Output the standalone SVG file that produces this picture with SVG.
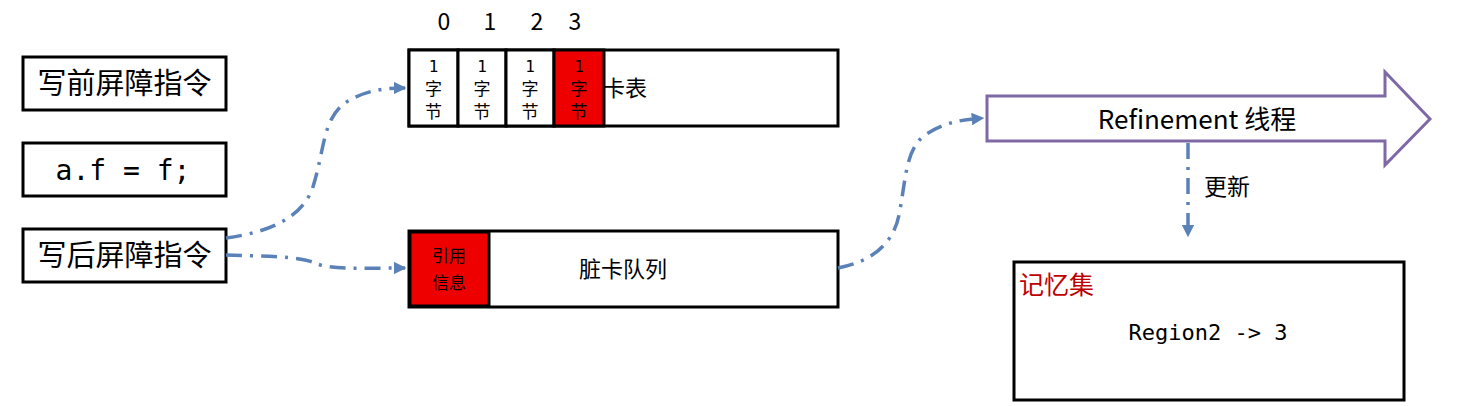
<svg xmlns="http://www.w3.org/2000/svg" width="1472" height="406" viewBox="0 0 1472 406">
<style>
.box{fill:#fff;stroke:#000;stroke-width:3}
.cjk{font-family:"Noto Sans CJK SC","Noto Sans",sans-serif;fill:#000}
.mono{font-family:"DejaVu Sans Mono","Liberation Mono",monospace;fill:#000}
.conn{fill:none;stroke:#5a81b8;stroke-width:3.5;stroke-dasharray:16 8 3 8}
</style>
<defs>
<marker id="ah" viewBox="0 0 10 10" refX="9" refY="5" markerWidth="3.6" markerHeight="3.6" orient="auto" markerUnits="strokeWidth">
<path d="M0,0 L10,5 L0,10 z" fill="#5a81b8"/>
</marker>
</defs>
<rect width="1472" height="406" fill="#fff"/>
<g id="n_pre"><rect class="box" x="23" y="57" width="203" height="53"/><text class="cjk" x="124.5" y="94" font-size="29" text-anchor="middle">写前屏障指令</text></g>
<g id="n_assign"><rect class="box" x="23" y="143" width="203" height="53"/><text class="mono" x="123" y="180" font-size="28" text-anchor="middle">a.f = f;</text></g>
<g id="n_post"><rect class="box" x="23" y="229" width="203" height="53"/><text class="cjk" x="124.5" y="266" font-size="29" text-anchor="middle">写后屏障指令</text></g>
<g id="n_cardtable">
<rect class="box" x="409" y="50" width="429" height="76"/>
<rect x="409" y="50" width="49" height="76" fill="#fff" stroke="#000" stroke-width="3"/>
<rect x="458" y="50" width="48" height="76" fill="#fff" stroke="#000" stroke-width="3"/>
<rect x="506" y="50" width="48" height="76" fill="#fff" stroke="#000" stroke-width="3"/>
<rect x="554" y="50" width="50" height="76" fill="#e00" stroke="#000" stroke-width="3"/>
<g class="cjk" font-size="17" text-anchor="middle">
<text class="mono" x="433.5" y="72" font-size="16">1</text><text x="433.5" y="95">字</text><text x="433.5" y="118">节</text>
<text class="mono" x="482" y="72" font-size="16">1</text><text x="482" y="95">字</text><text x="482" y="118">节</text>
<text class="mono" x="530" y="72" font-size="16">1</text><text x="530" y="95">字</text><text x="530" y="118">节</text>
<text class="mono" x="579" y="72" font-size="16">1</text><text x="579" y="95">字</text><text x="579" y="118">节</text>
</g>
<text class="cjk" x="603" y="96" font-size="22">卡表</text>
<g class="cjk" font-size="23" text-anchor="middle">
<text x="444" y="30">0</text><text x="490" y="30">1</text><text x="537" y="30">2</text><text x="575" y="30">3</text>
</g>
</g>
<g id="n_queue">
<rect class="box" x="409" y="231" width="429" height="76"/>
<rect x="410" y="232" width="79" height="74" fill="#e00" stroke="#000" stroke-width="3"/>
<text class="cjk" x="449" y="262" font-size="17" text-anchor="middle">引用</text>
<text class="cjk" x="449" y="289" font-size="17" text-anchor="middle">信息</text>
<text class="cjk" x="623" y="277" font-size="22" text-anchor="middle">脏卡队列</text>
</g>
<g id="n_refine">
<path d="M987,96 L1385,96 L1385,72 L1430,119 L1385,165 L1385,141 L987,141 Z" fill="#fff" stroke="#7f68a6" stroke-width="3"/>
<text class="cjk" x="1197" y="129" font-size="26" text-anchor="middle">Refinement 线程</text>
</g>
<g id="n_rset">
<rect class="box" x="1014" y="262" width="390" height="138"/>
<text class="cjk" x="1019" y="294" font-size="25" style="fill:#c00000">记忆集</text>
<text class="mono" x="1208" y="340" font-size="22" text-anchor="middle">Region2 -&gt; 3</text>
</g>
<g id="connectors">
<path class="conn" d="M226,238 C270,232 300,218 312,190 C325,150 322,120 345,103 C365,90 385,88 405,88" marker-end="url(#ah)"/>
<path class="conn" d="M226,255 C260,256 300,256 315,263 C330,270 360,268 405,268" marker-end="url(#ah)"/>
<path class="conn" d="M838,268 C870,262 893,245 899,215 C906,180 905,150 925,135 C945,122 960,120 983,118" marker-end="url(#ah)"/>
<path class="conn" d="M1188,143 L1188,236" marker-end="url(#ah)"/>
<text class="cjk" x="1204" y="195" font-size="23">更新</text>
</g>
</svg>
